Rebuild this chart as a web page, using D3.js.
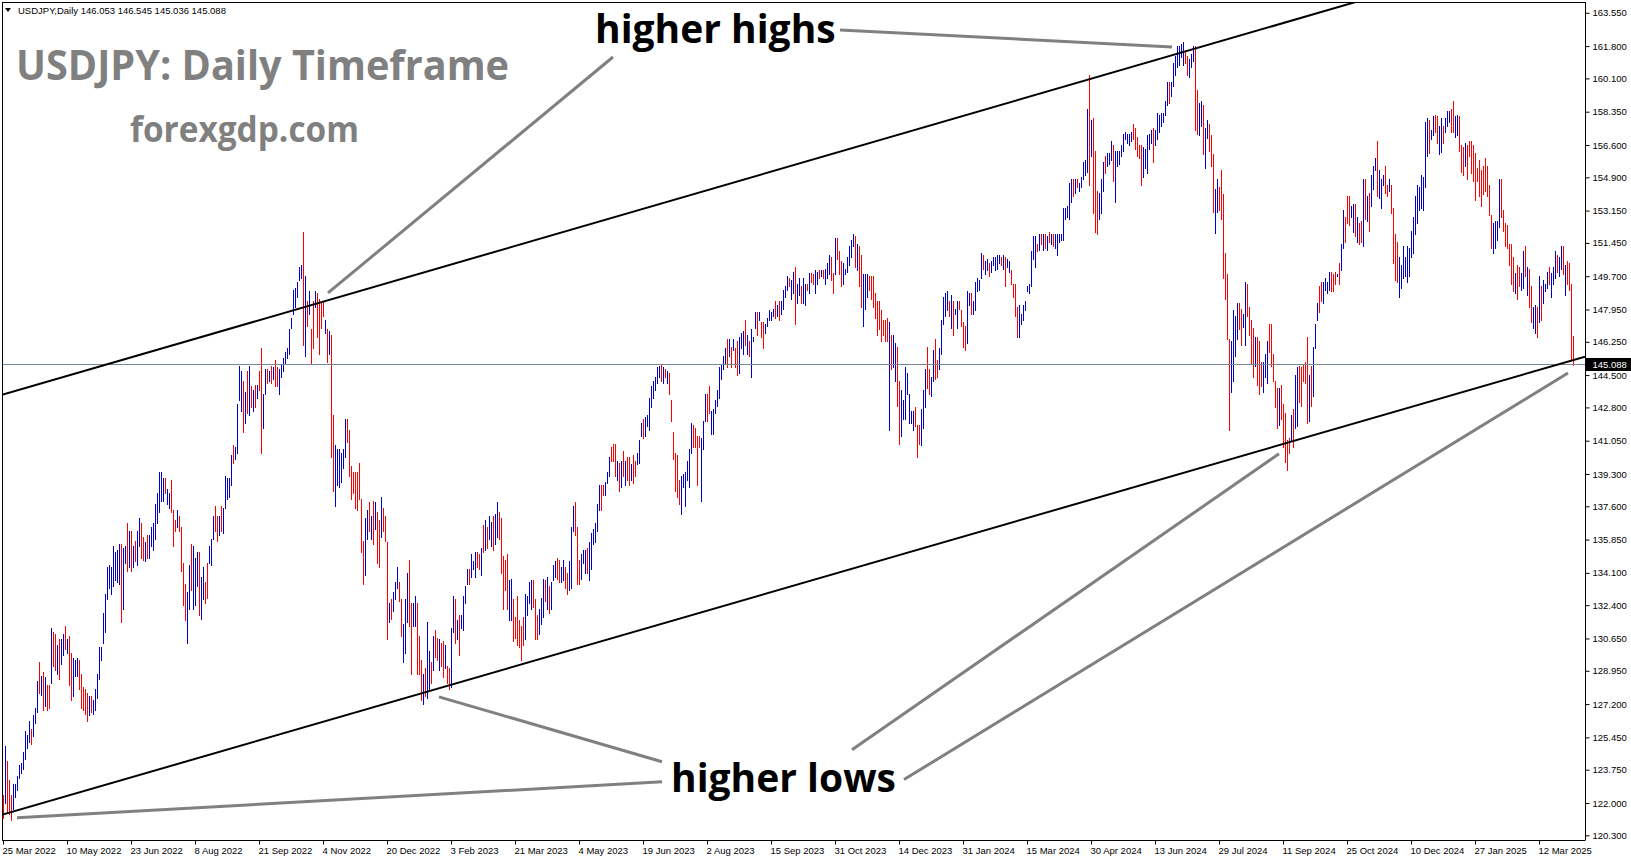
<!DOCTYPE html>
<html><head><meta charset="utf-8">
<script src="https://cdn.jsdelivr.net/npm/d3@7"></script>
<style>html,body{margin:0;padding:0;background:#fff;overflow:hidden}svg{display:block}</style>
</head><body>
<svg id="chart" width="1631" height="861"></svg>
<script>
// ---- DATA (daily bars, USDJPY) ----
const highs = [
122.4,125.0,124.2,123.2,122.4,123.0,123.0,123.4,124.0,124.1,
124.7,125.8,125.6,126.3,125.9,126.6,127.0,128.4,129.4,128.7,
128.9,128.6,128.2,128.2,131.2,131.0,130.9,130.3,130.6,130.6,
130.9,131.3,130.6,130.8,129.9,129.6,129.5,129.6,129.5,128.8,
128.1,128.0,127.8,127.6,127.6,127.4,128.0,128.8,130.2,130.2,
132.0,133.0,134.4,134.5,134.4,135.5,135.2,135.3,135.6,135.6,
135.4,135.5,136.7,136.3,136.3,135.5,135.8,136.3,137.0,136.7,
136.0,135.7,136.1,136.1,136.5,136.7,137.7,138.3,139.4,139.4,
139.1,139.1,138.5,138.3,139.0,137.4,136.9,137.4,137.1,136.5,
134.6,133.5,133.1,134.5,135.6,135.5,134.9,135.2,135.2,133.9,
134.4,133.6,134.6,135.5,135.9,137.1,137.6,137.1,137.1,137.6,
137.5,139.2,139.1,139.1,140.3,140.8,140.7,143.0,145.0,144.7,
144.2,143.6,144.7,145.0,143.9,143.7,144.0,144.0,144.7,145.9,
143.5,144.8,144.8,144.7,145.0,144.9,145.3,144.9,144.8,145.1,
145.4,145.7,145.9,146.9,147.5,149.0,149.1,149.4,150.2,150.3,
152.0,149.7,148.4,148.9,146.9,148.4,148.9,148.8,148.5,148.3,
148.4,147.4,146.9,146.8,146.6,142.4,140.8,140.6,140.6,140.4,
140.6,142.2,142.2,141.6,139.7,139.4,139.4,139.4,139.9,138.0,
135.8,137.0,137.4,137.8,137.1,137.9,137.8,137.3,136.9,138.1,
137.5,137.1,135.7,132.5,132.7,133.1,133.6,134.4,133.6,132.7,
131.4,132.7,134.1,134.8,132.5,132.5,132.9,132.5,130.8,129.5,
128.8,129.1,131.5,130.0,129.4,130.8,131.1,130.7,130.6,130.4,
130.5,130.3,129.2,129.1,131.2,132.9,132.7,131.6,131.9,131.9,
132.9,133.4,134.3,134.3,135.1,134.7,135.2,135.2,135.1,135.4,
136.6,136.9,136.5,137.1,136.8,137.1,137.2,137.8,137.3,137.0,
135.0,134.8,135.1,133.7,133.8,132.7,131.8,132.9,131.6,131.3,
131.8,133.0,132.9,133.6,133.7,133.7,132.7,131.9,132.2,132.8,
133.8,133.7,133.9,133.4,133.6,134.5,134.7,134.9,134.8,134.4,
134.8,134.4,134.1,134.7,136.5,137.6,137.8,136.5,134.8,135.1,
135.3,135.3,135.4,135.7,136.2,136.4,136.7,137.7,138.7,138.7,
138.7,138.9,139.4,140.2,140.7,140.9,140.9,140.0,139.9,140.0,
140.5,140.0,140.2,140.2,139.8,140.3,140.0,140.4,141.1,142.0,
142.2,142.3,142.4,143.3,143.9,144.2,144.4,144.9,145.0,145.1,
144.9,144.8,144.7,144.6,143.2,141.5,140.4,140.3,139.0,139.2,
139.3,139.4,140.0,140.6,142.0,141.9,141.7,141.3,141.3,141.2,
142.1,143.5,143.5,143.9,142.6,142.7,143.2,143.7,144.9,145.1,
145.5,145.9,146.4,146.4,146.0,146.4,145.9,146.3,146.5,146.7,
146.8,147.4,146.6,146.3,146.9,146.5,147.8,147.8,147.8,147.3,
147.3,147.2,147.5,147.9,147.8,148.0,148.4,148.2,148.4,148.4,
149.0,149.2,149.7,149.6,149.5,149.9,150.2,149.3,149.6,149.2,
149.6,149.3,149.3,149.85,149.85,149.8,150.0,149.9,150.0,150.0,
150.0,150.1,150.4,150.8,150.7,149.85,151.7,151.7,151.0,150.5,
150.4,150.1,150.7,151.3,151.6,151.9,151.8,151.4,151.3,150.8,
149.8,149.8,149.8,149.7,149.7,149.7,148.8,148.4,148.4,147.9,
147.4,147.4,147.5,147.3,146.6,146.6,146.2,146.0,144.2,143.7,
143.2,144.9,144.6,143.5,142.6,142.6,142.8,141.9,141.9,142.7,
143.7,144.8,146.0,144.8,144.4,145.8,146.4,145.3,145.9,147.4,
148.6,148.8,148.9,148.4,148.7,148.4,148.0,148.4,148.4,147.9,
147.3,147.1,148.9,148.8,148.8,148.4,149.4,149.6,149.5,150.9,
150.8,150.5,150.6,150.4,150.5,150.7,150.7,150.8,150.8,150.7,
150.8,150.7,150.6,150.5,150.0,149.3,149.3,148.1,148.2,147.7,
148.2,148.4,149.2,149.3,151.0,151.8,151.8,151.4,151.9,151.9,
151.9,151.9,151.8,152.0,151.9,151.9,151.9,151.9,151.9,151.9,
153.3,153.3,153.4,154.6,154.8,154.8,154.8,154.8,154.6,154.9,
155.7,155.8,158.5,160.3,157.9,158.0,156.3,154.2,154.1,154.8,
155.7,156.0,156.2,156.2,156.8,156.6,156.3,156.3,156.3,156.6,
157.2,157.3,157.2,157.2,157.3,157.7,157.5,157.0,156.6,156.6,
156.5,156.4,157.1,157.2,157.4,157.5,157.4,158.3,158.2,158.3,
158.3,158.9,159.9,159.9,159.9,160.9,161.3,161.8,161.8,161.9,
162.0,161.6,161.3,161.1,161.4,161.8,161.8,159.5,158.8,158.9,
158.7,157.5,157.9,157.7,157.1,156.1,154.3,154.8,154.4,155.3,
154.0,150.9,149.8,146.4,146.3,147.9,147.6,148.3,148.3,148.0,
147.7,149.4,149.3,148.1,147.4,147.0,146.5,146.5,146.3,145.2,
145.2,145.6,146.3,147.2,147.2,145.6,144.2,143.8,143.8,144.0,
143.0,142.5,141.1,141.2,142.4,142.7,144.5,144.9,145.0,144.9,
145.1,145.2,146.5,144.5,145.0,146.0,147.2,148.3,149.2,149.4,
149.4,149.6,149.4,149.9,149.9,149.8,149.9,149.8,150.4,151.4,
153.2,152.8,153.9,153.9,153.4,153.5,153.5,152.8,152.5,152.6,
154.8,154.8,153.9,154.1,155.0,155.5,155.9,156.8,155.3,154.8,
155.0,155.5,154.5,154.8,154.5,153.3,151.9,151.5,150.7,150.3,
151.3,150.7,151.3,151.2,152.1,152.8,153.9,154.5,154.4,155.0,
154.9,157.8,158.0,157.9,157.4,158.1,158.2,158.1,157.6,158.0,
157.6,158.0,158.4,158.4,158.5,158.9,158.1,158.2,158.1,156.6,
156.5,156.7,156.6,156.8,156.8,156.6,156.2,155.4,155.8,155.3,
155.5,155.9,155.5,154.5,152.9,152.5,152.6,152.6,154.8,154.8,
153.2,152.5,152.4,151.4,151.4,150.7,149.85,150.3,150.2,149.85,
151.0,151.3,150.2,150.1,149.2,148.1,148.2,148.1,149.7,149.2,
149.5,149.3,149.9,150.2,149.85,150.2,151.0,150.8,150.7,151.3,
151.3,150.3,150.5,150.4,149.3,146.545
];
const lows = [
121.2,122.0,121.5,121.4,121.1,121.7,122.3,122.7,123.3,123.6,
123.8,124.3,124.9,125.2,125.1,125.5,126.2,126.8,127.8,127.7,
126.9,127.1,126.9,127.0,128.3,129.2,129.0,128.8,128.5,129.3,
129.8,130.1,129.9,128.2,127.4,127.6,128.7,128.7,128.0,127.0,
126.9,126.7,126.3,126.6,126.8,126.7,126.9,127.5,128.5,129.5,
130.4,131.0,132.7,133.3,133.0,133.4,133.7,133.6,133.5,131.5,
132.2,134.6,134.2,134.4,134.2,134.4,134.7,134.5,135.5,134.9,
134.8,134.7,134.9,134.9,135.5,135.3,135.9,136.7,137.3,137.9,
137.9,138.3,137.7,137.5,137.3,135.5,136.3,136.5,136.3,134.2,
132.4,131.6,130.4,132.2,133.2,132.2,132.4,133.4,131.9,131.7,
132.7,132.5,132.8,134.6,134.5,135.9,136.3,135.8,136.1,136.3,
136.2,137.5,138.0,138.1,138.7,139.9,140.1,140.4,143.2,142.6,
141.5,142.0,142.5,142.4,142.8,142.6,142.8,143.3,143.7,140.4,
141.7,143.5,144.1,144.2,144.1,144.3,143.9,143.9,143.5,144.4,
144.7,145.1,145.4,145.6,147.0,147.7,148.1,148.6,149.5,149.6,
146.1,145.5,147.1,147.7,145.1,145.9,148.1,146.5,145.6,147.0,
147.6,146.7,145.2,145.6,140.2,138.4,137.6,138.7,138.6,138.9,
139.6,140.2,141.0,139.2,138.0,138.3,137.5,137.4,138.0,135.2,
133.5,134.0,135.9,136.3,135.9,135.6,136.4,134.6,134.4,136.0,
136.3,135.8,130.6,131.5,131.7,132.1,132.7,133.3,132.6,130.8,
129.4,129.9,131.5,131.3,128.8,131.3,131.3,128.8,128.8,127.4,
127.2,127.6,127.5,127.9,128.3,129.0,129.7,129.5,129.0,129.2,
128.6,129.1,128.3,128.0,128.1,131.0,130.4,130.6,129.8,131.2,
131.1,132.5,133.5,133.5,133.9,134.3,133.9,134.4,134.3,134.0,
135.2,135.3,135.4,135.9,135.5,135.3,135.6,136.0,135.9,134.1,
132.2,133.2,132.2,131.6,131.6,130.5,130.7,130.3,130.2,129.5,
130.3,130.6,131.9,132.5,132.2,132.3,130.6,130.6,130.9,131.4,
131.8,132.6,132.2,132.0,132.2,133.7,133.9,133.8,133.6,133.6,
133.7,133.3,133.0,133.2,133.3,136.3,136.1,133.5,133.5,133.8,
134.6,134.1,134.1,133.7,134.3,135.6,135.7,136.3,137.4,137.4,
138.2,138.2,138.8,139.2,140.0,140.0,139.2,139.0,138.4,138.6,
139.2,138.7,139.0,138.7,139.0,138.8,139.2,139.8,139.9,141.3,
141.2,141.3,141.8,141.6,142.8,143.3,143.7,144.1,144.4,144.2,
144.1,144.4,144.1,143.5,142.1,140.1,138.4,138.1,137.7,137.2,
138.6,137.6,139.0,138.6,140.4,140.7,140.7,138.7,140.7,137.9,
140.6,142.1,142.1,142.5,141.4,141.4,142.5,142.9,143.3,144.3,
144.8,145.1,144.9,145.5,144.9,145.8,144.9,144.5,144.6,145.9,
145.6,146.1,145.6,145.5,144.4,146.3,147.0,146.6,147.4,146.5,
145.9,146.7,147.1,147.4,147.4,147.6,147.5,147.6,147.4,147.7,
148.0,148.6,149.0,149.2,148.5,148.8,147.2,148.3,148.7,148.3,
148.3,148.2,149.0,148.8,149.4,149.3,148.8,149.3,149.6,149.7,
149.6,149.3,149.6,149.8,149.5,148.8,149.8,150.6,149.8,149.2,
149.3,149.8,149.9,150.3,150.7,151.3,150.2,150.0,149.2,148.1,
147.1,148.0,148.6,149.0,148.5,148.1,147.5,146.6,146.9,146.3,
146.6,146.3,146.3,141.6,144.8,144.9,144.2,142.9,140.9,141.3,
142.2,142.2,143.5,142.0,142.0,141.6,141.8,140.2,140.9,140.8,
141.7,142.8,143.8,143.5,143.4,144.2,144.3,144.4,144.8,145.6,
147.2,147.6,147.9,147.6,147.0,146.6,147.7,147.0,148.0,147.1,
146.0,145.8,146.2,148.2,147.7,147.7,147.9,148.9,149.0,149.6,
150.1,149.8,150.0,149.7,149.9,150.3,150.0,150.1,150.4,150.3,
150.1,149.2,150.2,149.9,149.3,148.6,147.6,146.5,146.5,147.2,
147.4,147.9,148.9,148.8,149.2,150.6,150.2,151.0,151.1,151.4,
151.1,151.2,151.1,151.5,151.4,151.3,151.2,150.8,151.5,151.6,
151.6,152.7,152.8,152.7,153.6,153.9,154.1,154.4,154.2,154.4,
154.8,155.0,155.2,154.5,156.0,153.0,152.0,151.9,152.7,153.0,
154.2,155.1,155.5,155.6,155.8,154.7,153.6,155.5,155.6,156.0,
156.3,156.9,156.7,156.6,156.8,156.9,156.4,156.0,155.9,154.5,
154.9,155.4,155.1,156.4,156.7,155.7,156.6,156.9,157.3,157.6,
157.8,158.2,158.7,158.8,159.2,159.7,160.3,160.7,160.8,161.2,
160.8,160.9,160.3,160.2,160.7,161.0,157.4,157.2,157.1,157.6,
156.1,155.4,156.95,156.3,155.5,153.1,151.95,153.1,153.2,152.7,
149.6,148.5,146.4,141.6,143.6,144.2,145.5,146.4,146.9,146.1,
147.05,146.1,147.6,146.6,145.1,144.4,145.0,144.0,143.5,143.9,
143.6,144.4,144.1,145.7,145.0,144.2,142.8,141.7,141.9,142.2,
140.7,139.95,139.5,140.4,141.1,140.7,141.7,141.8,143.1,142.9,
144.2,144.1,142.0,142.1,142.9,143.4,145.9,147.4,147.8,148.4,
148.3,149.0,148.8,149.0,148.9,148.9,149.3,149.7,149.3,150.0,
151.2,151.5,152.5,152.4,152.8,152.0,151.8,151.5,151.4,151.5,
151.3,152.7,152.6,152.1,153.4,154.3,155.3,153.9,153.8,153.3,
154.5,154.1,153.9,154.2,153.0,150.4,149.5,149.4,148.6,149.1,
149.6,149.7,149.4,149.7,150.7,150.9,151.9,152.5,153.2,153.3,
153.2,154.4,156.0,156.2,156.9,157.1,157.3,156.7,156.1,156.25,
156.7,157.3,157.6,157.8,157.3,157.3,157.0,157.1,156.3,155.2,
155.0,155.5,154.8,156.0,155.1,154.7,153.7,154.7,153.9,153.4,
154.0,154.2,153.9,152.9,151.2,150.9,151.2,151.6,152.3,152.8,
152.1,151.3,151.2,150.3,149.3,148.9,148.8,148.5,149.2,149.0,
149.1,149.7,148.7,148.1,147.3,147.0,146.7,146.5,147.3,147.4,
148.3,148.9,149.1,149.3,148.6,149.3,149.6,149.9,149.7,150.1,
149.8,148.7,149.3,149.0,145.3,145.036
];
// u = bar closed up (blue), d = bar closed down (red); ten bars per entry
const directionRows = [
"duddduuuuu","uuuuduuudu","dudduddudu","ududduuudd","ddduduuuuu",
"uuuuuuuuud","uudududuud","duduuuuuuu","uduudddudd","dduuduuudu",
"udduuuddud","uuuuuduuuu","dududududd","uudududduu","uuuuuuuuuu",
"dududduddd","dududduuuu","uudddddddd","duudududdu","ddduduuudd",
"uuudduuddd","uduududdud","dudduududu","uuuduuuddu","duduuduudd",
"ddduuddddd","duuuuddduu","ududuuuddu","udduuudddu","uuduuuuuud",
"duuudddudu","duddudduuu","duuuuuuuud","ududdddddu","uuuuuddddu",
"uudduuuuuu","uudududduu","ududuuudud","duuuuududu","uuuduuduud",
"uududduudu","duuudduddd","uuuuuududd","uuuddddddd","ddduduuddu".replace(/^ddduduuddu$/, "ddduduuddu"),
"uuuuuudddu","uudduudduu","uuududuudd","dduuduuuuu","duuduuuuud",
"uduudddduu","uuuuuuudud","udududuuuu","uuuuududuu","uuududdduu",
"uduuuduuuu","uuuuuddddd","uuuuuduuuu","uuuduuuuuu","udduuudduu",
"duuddduudd","dddduuuudd","uudddduddd","uuudddddud","dddduduudd",
"ddduduuudd","uuuudddudu","uddduududd","ududuuuduu","uddudddduu",
"uuuuuuuuuu","uuuduudduu","duuudduudd","dudddddddd","ddddduuuud",
"dddddduddu","ududduudud","uuuduuuduu","dudddd"
];
const priceTicks = [163.55,161.8,160.1,158.35,156.6,154.9,153.15,151.45,149.7,147.95,146.25,144.5,142.8,141.05,139.3,137.6,135.85,134.1,132.4,130.65,128.95,127.2,125.45,123.75,122.0,120.3];
const dateLabels = ["25 Mar 2022","10 May 2022","23 Jun 2022","8 Aug 2022","21 Sep 2022","4 Nov 2022","20 Dec 2022","3 Feb 2023","21 Mar 2023","4 May 2023","19 Jun 2023","2 Aug 2023","15 Sep 2023","31 Oct 2023","14 Dec 2023","31 Jan 2024","15 Mar 2024","30 Apr 2024","13 Jun 2024","29 Jul 2024","11 Sep 2024","25 Oct 2024","10 Dec 2024","27 Jan 2025","12 Mar 2025"];
const barsPerLabel = 32;
const lastQuote = [146.053, 146.545, 145.036, 145.088];
const symbolTitle = "USDJPY,Daily";
// trend lines as [bar index, price] anchors
const channelUpper = [[-0.5, 143.46], [593.5, 161.59]];
const channelLower = [[-1.5, 121.35], [791, 145.47]];
const pointerLines = [
  [[418.5, 162.65], [584.5, 161.75]],
  [[305, 161.225], [162.5, 148.82]],
  [[218, 127.58], [329.5, 124.17]],
  [[7, 121.22], [329.5, 123.11]],
  [[424.5, 124.80], [638, 140.36]],
  [[450.5, 123.23], [782.5, 144.61]]
];
const textLabels = [
  {text: "higher highs", at: [296, 161.96]},
  {text: "higher lows", at: [334, 122.58]}
];
</script>
<script>
const dirs = directionRows.join("");

const W = 1631, H = 861;
const L = 2, T = 2, R = 1585, B = 840;
const svg = d3.select("#chart");
svg.append("rect").attr("width", W).attr("height", H).attr("fill", "#fff");

const x = d3.scaleLinear().domain([-0.5, 791]).range([L, R]);
const y = d3.scaleLinear().domain([120.3, 163.55]).range([835.3, 12.8]);

svg.append("defs").append("clipPath").attr("id", "plot")
  .append("rect").attr("x", L).attr("y", T).attr("width", R - L).attr("height", B - T);

const plot = svg.append("g").attr("clip-path", "url(#plot)");

// bars
const bars = highs.map((h, i) => ({i, h, l: lows[i], up: dirs[i] === "u"}));
plot.append("g").attr("shape-rendering", "crispEdges")
  .selectAll("rect").data(bars).join("rect")
  .attr("x", d => Math.round(x(d.i)))
  .attr("y", d => Math.round(y(d.h)))
  .attr("width", 1)
  .attr("height", d => Math.max(1, Math.round(y(d.l)) - Math.round(y(d.h)) + 1))
  .attr("fill", d => d.up ? "#0000CC" : "#FF0000");

// current price line
const py = Math.round(y(lastQuote[3]));
plot.append("line")
  .attr("x1", L).attr("x2", R)
  .attr("y1", py + 0.5).attr("y2", py + 0.5)
  .attr("stroke", "#778899").attr("stroke-width", 1);

// channel lines (rays to the right)
function ray(p, xEnd) {
  const [a, b] = p;
  const k = (b[1] - a[1]) / (b[0] - a[0]);
  return [[a[0], a[1]], [xEnd, a[1] + k * (xEnd - a[0])]];
}
const lineGen = d3.line().x(d => x(d[0])).y(d => y(d[1]));
[ray(channelUpper, 791), ray(channelLower, 791)].forEach(seg => {
  plot.append("path").attr("d", lineGen(seg))
    .attr("fill", "none").attr("stroke", "#000").attr("stroke-width", 2);
});

// pointer lines
pointerLines.forEach(seg => {
  plot.append("path").attr("d", lineGen(seg))
    .attr("fill", "none").attr("stroke", "#808080").attr("stroke-width", 3);
});

// annotation text
textLabels.forEach(t => {
  svg.append("text").attr("x", x(t.at[0])).attr("y", y(t.at[1]))
    .attr("font-family", "'Open Sans', 'DejaVu Sans', sans-serif")
    .attr("font-weight", 700).attr("font-size", 39).attr("fill", "#000")
    .text(t.text);
});

// watermark titles
svg.append("text").attr("x", 16).attr("y", 80)
  .attr("font-family", "'Open Sans', sans-serif").attr("font-weight", 700)
  .attr("font-size", 42).attr("fill", "#808080")
  .attr("textLength", 493).attr("lengthAdjust", "spacingAndGlyphs")
  .text("USDJPY: Daily Timeframe");
svg.append("text").attr("x", 130).attr("y", 142)
  .attr("font-family", "'Open Sans', sans-serif").attr("font-weight", 700)
  .attr("font-size", 35).attr("fill", "#808080")
  .attr("textLength", 229).attr("lengthAdjust", "spacingAndGlyphs")
  .text("forexgdp.com");

// header
svg.append("path").attr("d", "M5,8 L11,8 L8,12 Z").attr("fill", "#000");
svg.append("text").attr("x", 18).attr("y", 14)
  .attr("font-family", "'Liberation Sans', Arial, sans-serif").attr("font-size", 9.5).attr("fill", "#000")
  .text(symbolTitle + "  " + lastQuote.map(v => v.toFixed(3)).join(" "));

// frame
const frame = svg.append("g").attr("shape-rendering", "crispEdges").attr("stroke", "#000").attr("fill", "none");
frame.append("line").attr("x1", L + 0.5).attr("x2", L + 0.5).attr("y1", T).attr("y2", B + 0.5);
frame.append("line").attr("x1", L).attr("x2", R + 0.5).attr("y1", T + 0.5).attr("y2", T + 0.5);

// right price axis
const yAxis = d3.axisRight(y).tickValues(priceTicks).tickSize(4).tickPadding(3)
  .tickFormat(d => d.toFixed(3));
const ya = svg.append("g").attr("transform", `translate(${R + 0.5},0)`).call(yAxis);
ya.select(".domain").attr("d", `M0,${T}V${B}`);
ya.selectAll("text").attr("font-family", "'Liberation Sans', Arial, sans-serif").attr("font-size", 9.5).attr("fill", "#000");
ya.selectAll("line").attr("stroke", "#000");

// last price marker
svg.append("rect").attr("x", R + 1).attr("y", py - 6).attr("width", W - R - 1).attr("height", 13).attr("fill", "#000");
svg.append("text").attr("x", R + 7.5).attr("y", py + 4)
  .attr("font-family", "'Liberation Sans', Arial, sans-serif").attr("font-size", 9.5).attr("fill", "#fff")
  .text(lastQuote[3].toFixed(3));

// bottom time axis
const dateIdx = dateLabels.map((d, k) => k * barsPerLabel);
const xAxis = d3.axisBottom(x).tickValues(dateIdx).tickSize(4).tickPadding(3)
  .tickFormat((d, k) => dateLabels[k]);
const xa = svg.append("g").attr("transform", `translate(0,${B + 0.5})`).call(xAxis);
xa.select(".domain").attr("d", `M${L},0H${R + 0.5}`);
xa.selectAll("text").attr("font-family", "'Liberation Sans', Arial, sans-serif").attr("font-size", 9.5)
  .attr("fill", "#000").attr("text-anchor", "start").attr("dx", -1);
xa.selectAll("line").attr("stroke", "#000");
</script>
</body></html>
